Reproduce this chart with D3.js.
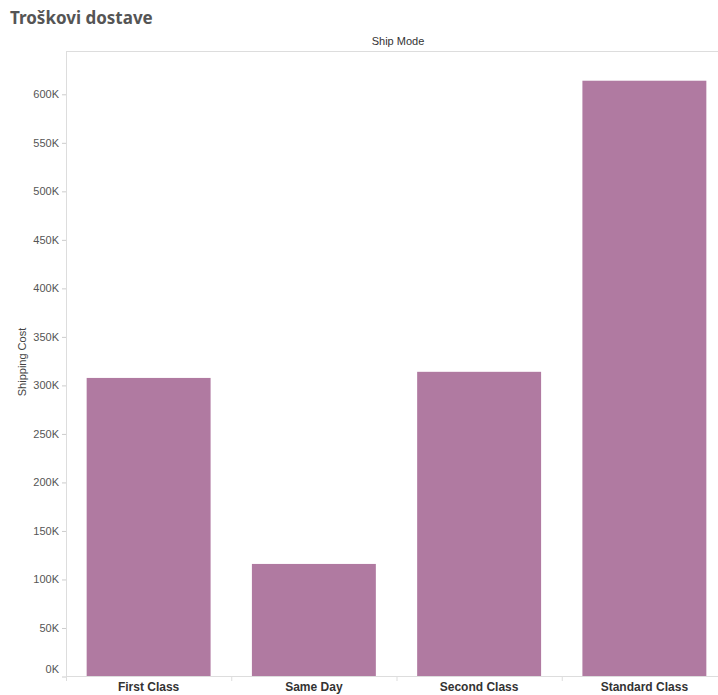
<!DOCTYPE html>
<html>
<head>
<meta charset="utf-8">
<script src="https://cdn.jsdelivr.net/npm/d3@7"></script>
<style>
  body { margin: 0; background: #fff; }
  svg { display: block; font-family: Arial, "Liberation Sans", sans-serif; }
</style>
</head>
<body>
<div id="chart"></div>
<script>
// data
const shipModes = ["First Class", "Same Day", "Second Class", "Standard Class"]
const shippingCost = [307700, 116000, 314000, 614000]
const yTicks = [0, 50000, 100000, 150000, 200000, 250000, 300000, 350000, 400000, 450000, 500000, 550000, 600000]

const W = 718, H = 695
const margin = {top: 51, left: 66, bottom: 676}
const plotRight = 727

const svg = d3.select("#chart").append("svg")
  .attr("width", W)
  .attr("height", H)

// title
svg.append("text")
  .attr("x", 10).attr("y", 24)
  .text("Troškovi dostave")
  .style("font-family", "'Noto Sans', 'Open Sans', sans-serif")
  .style("font-size", "17px")
  .style("font-weight", "bold")
  .style("fill", "#555")

const x = d3.scaleBand()
  .domain(shipModes)
  .range([margin.left, plotRight])
  .paddingInner(0.25)
  .paddingOuter(0.125)

const y = d3.scaleLinear()
  .domain([0, 600000])
  .range([676.5, 94.3])

// header
svg.append("text")
  .attr("x", (margin.left + W) / 2 + 6)
  .attr("y", 45)
  .attr("text-anchor", "middle")
  .style("font-size", "11px")
  .style("fill", "#333")
  .text("Ship Mode")

svg.append("line")
  .attr("x1", margin.left).attr("x2", W)
  .attr("y1", margin.top + 0.5).attr("y2", margin.top + 0.5)
  .style("stroke", "#ddd")

// bars
svg.append("g")
  .selectAll("rect")
  .data(shipModes)
  .join("rect")
  .attr("x", d => x(d))
  .attr("width", x.bandwidth())
  .attr("y", (d, i) => y(shippingCost[i]))
  .attr("height", (d, i) => y(0) - y(shippingCost[i]))
  .style("fill", "#b07aa1")

// y axis
const yAxis = svg.append("g")
  .attr("transform", "translate(" + margin.left + ",0)")
  .call(d3.axisLeft(y).tickValues(yTicks).tickSize(4).tickPadding(3)
    .tickFormat(d => d3.format("d")(d / 1000) + "K"))
yAxis.select(".domain").remove()
yAxis.selectAll(".tick line").style("stroke", "#ccc")
yAxis.selectAll(".tick text")
  .style("font-size", "11px")
  .style("fill", "#555")
  .style("font-family", "Arial, 'Liberation Sans', sans-serif")
// 0K label is nudged up like in the source
yAxis.selectAll(".tick").filter(d => d === 0).select("text").attr("dy", "-0.4em")

svg.append("line")
  .attr("x1", margin.left + 0.5).attr("x2", margin.left + 0.5)
  .attr("y1", margin.top).attr("y2", 677)
  .style("stroke", "#ddd")

svg.append("text")
  .attr("transform", "translate(26," + 362 + ") rotate(-90)")
  .attr("text-anchor", "middle")
  .style("font-size", "11px")
  .style("fill", "#444")
  .text("Shipping Cost")

// x axis
svg.append("line")
  .attr("x1", margin.left).attr("x2", W)
  .attr("y1", 676.5).attr("y2", 676.5)
  .style("stroke", "#ddd")

const seps = shipModes.map(d => x(d) - x.step() * x.paddingInner() / 2)
svg.append("g")
  .selectAll("line")
  .data(seps)
  .join("line")
  .attr("x1", d => d + 0.5).attr("x2", d => d + 0.5)
  .attr("y1", 676).attr("y2", 681)
  .style("stroke", "#ddd")

svg.append("g")
  .selectAll("text")
  .data(shipModes)
  .join("text")
  .attr("x", d => x(d) + x.bandwidth() / 2)
  .attr("y", 691)
  .attr("text-anchor", "middle")
  .style("font-size", "12px")
  .style("font-weight", "bold")
  .style("fill", "#333")
  .text(d => d)
</script>
</body>
</html>
